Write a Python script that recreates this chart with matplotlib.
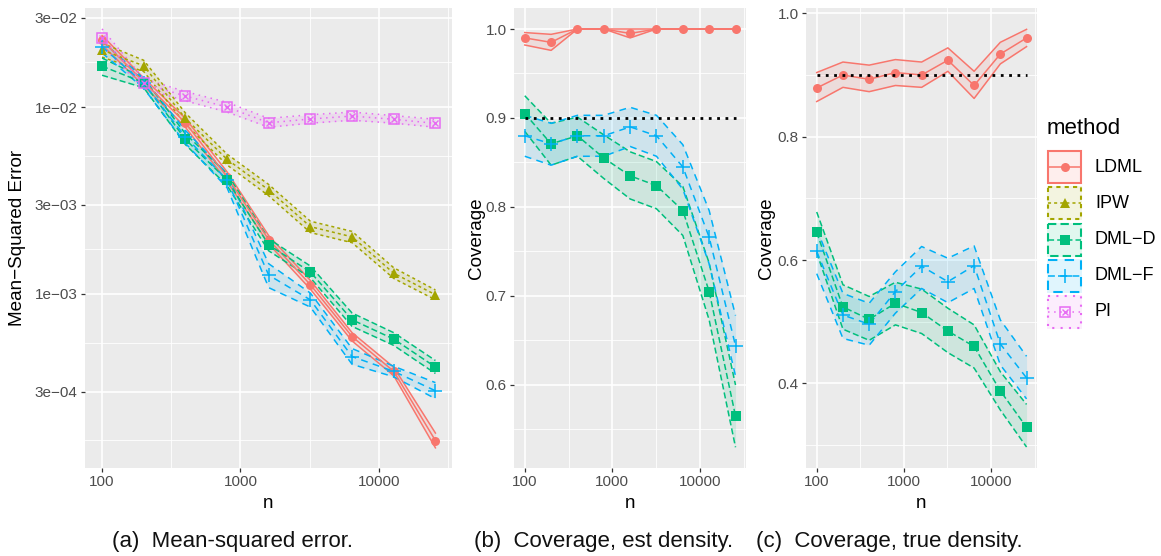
import numpy as np
import matplotlib
matplotlib.use("Agg")
import matplotlib.pyplot as plt
from matplotlib.patches import Rectangle

plt.rcParams['font.family'] = ['Liberation Sans', 'DejaVu Sans']

# ---------------- data ----------------
n_vals = [100, 200, 400, 800, 1600, 3200, 6400, 12800, 25600]
methods = ["LDML", "IPW", "DML\u2212D", "DML\u2212F", "PI"]

# (a) Mean-squared error
mse_ldml = [0.0228, 0.01365, 0.00824, 0.00424, 0.00195, 0.00112, 0.000591, 0.000385, 0.000164]
mse_ldml_lo = [0.0215, 0.0130, 0.0078, 0.0040, 0.00185, 0.00106, 0.00056, 0.000365, 0.000150]
mse_ldml_hi = [0.0242, 0.0143, 0.0087, 0.0045, 0.00205, 0.00118, 0.00062, 0.000405, 0.000180]

mse_ipw = [0.0202, 0.01663, 0.0087, 0.00525, 0.0036, 0.00229, 0.00202, 0.00129, 0.00099]
mse_ipw_lo = [0.0185, 0.0155, 0.0081, 0.0049, 0.00335, 0.00213, 0.00188, 0.00121, 0.00093]
mse_ipw_hi = [0.0220, 0.0178, 0.0093, 0.0056, 0.00385, 0.00245, 0.00216, 0.00138, 0.00105]

mse_dmld = [0.01656, 0.0135, 0.00672, 0.00407, 0.00183, 0.00131, 0.000727, 0.000573, 0.000406]
mse_dmld_lo = [0.0148, 0.0127, 0.0063, 0.0038, 0.0017, 0.00122, 0.00067, 0.00053, 0.000375]
mse_dmld_hi = [0.0183, 0.0143, 0.0072, 0.0044, 0.00197, 0.00141, 0.00079, 0.00062, 0.00044]

mse_dmlf = [0.0210, 0.0134, 0.00694, 0.00407, 0.00126, 0.000929, 0.000462, 0.000385, 0.000303]
mse_dmlf_lo = [0.0195, 0.0126, 0.0064, 0.0037, 0.00108, 0.00085, 0.00042, 0.00036, 0.000275]
mse_dmlf_hi = [0.0226, 0.0142, 0.0075, 0.0044, 0.00145, 0.00101, 0.00051, 0.00041, 0.000335]

mse_pi = [0.0235, 0.0134, 0.01145, 0.0100, 0.00824, 0.00863, 0.00895, 0.0086, 0.00818]
mse_pi_lo = [0.0212, 0.0126, 0.0108, 0.0094, 0.0078, 0.0082, 0.0085, 0.0082, 0.0078]
mse_pi_hi = [0.0262, 0.0142, 0.0121, 0.0106, 0.0087, 0.0091, 0.0094, 0.0090, 0.0086]

# (b) Coverage, estimated density
covb_ldml = [0.990, 0.985, 1.0, 1.0, 0.995, 1.0, 1.0, 1.0, 1.0]
covb_ldml_lo = [0.982, 0.976, 1.0, 1.0, 0.990, 1.0, 1.0, 1.0, 1.0]
covb_ldml_hi = [0.996, 0.994, 1.0, 1.0, 1.0, 1.0, 1.0, 1.0, 1.0]

covb_dmld = [0.905, 0.871, 0.880, 0.855, 0.835, 0.824, 0.796, 0.705, 0.565]
covb_dmld_lo = [0.885, 0.847, 0.857, 0.832, 0.809, 0.798, 0.768, 0.673, 0.530]
covb_dmld_hi = [0.925, 0.894, 0.901, 0.881, 0.862, 0.851, 0.823, 0.737, 0.600]

covb_dmlf = [0.880, 0.871, 0.880, 0.880, 0.890, 0.880, 0.845, 0.766, 0.644]
covb_dmlf_lo = [0.857, 0.847, 0.857, 0.857, 0.868, 0.857, 0.820, 0.736, 0.610]
covb_dmlf_hi = [0.903, 0.894, 0.903, 0.903, 0.912, 0.903, 0.870, 0.796, 0.678]

# (c) Coverage, true density
covc_ldml = [0.879, 0.900, 0.893, 0.904, 0.900, 0.924, 0.883, 0.934, 0.960]
covc_ldml_lo = [0.857, 0.880, 0.873, 0.883, 0.880, 0.906, 0.862, 0.918, 0.946]
covc_ldml_hi = [0.904, 0.921, 0.916, 0.925, 0.921, 0.944, 0.906, 0.953, 0.974]

covc_dmld = [0.645, 0.524, 0.504, 0.530, 0.515, 0.485, 0.460, 0.388, 0.329]
covc_dmld_lo = [0.612, 0.488, 0.470, 0.495, 0.481, 0.450, 0.425, 0.357, 0.297]
covc_dmld_hi = [0.678, 0.560, 0.541, 0.564, 0.553, 0.522, 0.495, 0.419, 0.366]

covc_dmlf = [0.614, 0.511, 0.496, 0.549, 0.590, 0.565, 0.591, 0.464, 0.409]
covc_dmlf_lo = [0.578, 0.473, 0.462, 0.514, 0.554, 0.531, 0.554, 0.430, 0.375]
covc_dmlf_hi = [0.650, 0.546, 0.530, 0.581, 0.622, 0.603, 0.623, 0.503, 0.444]

nominal = 0.9

captions = ["(a)  Mean-squared error.", "(b)  Coverage, est density.",
            "(c)  Coverage, true density."]

# ---------------- style ----------------
colors = {"LDML": "#F8766D", "IPW": "#A3A500", "DML\u2212D": "#00BF7D",
          "DML\u2212F": "#00B0F6", "PI": "#E76BF3"}
lstyles = {"LDML": "-", "IPW": (0, (2, 2)), "DML\u2212D": (0, (4, 2)),
           "DML\u2212F": (0, (4.5, 3.5)), "PI": (0, (1, 3))}
LW = 1.1
RIB_ALPHA = 0.12
BG = "#EBEBEB"
TICKCOL = "#4D4D4D"

W, H = 1161, 556
fig = plt.figure(figsize=(W / 100, H / 100), dpi=100)


def px_axes(l, r, t, b):
    return fig.add_axes([l / W, 1 - b / H, (r - l) / W, (b - t) / H])


ax_a = px_axes(85, 452, 8, 468)
ax_b = px_axes(514, 746, 8, 468)
ax_c = px_axes(806, 1037, 8, 468)

xlog_lo, xlog_hi = 1.877, 4.528


def draw_marker(ax, x, y, m):
    c = colors[m]
    if m == "PI":
        ax.plot(x, y, ls="none", marker="s", ms=6.5, mfc="none", mec=c, mew=1.1, zorder=5)
        ax.plot(x, y, ls="none", marker="x", ms=4.8, mec=c, mew=1.0, zorder=5)
    elif m == "DML\u2212F":
        ax.plot(x, y, ls="none", marker="+", ms=10, mec=c, mew=1.1, zorder=5)
    elif m == "IPW":
        ax.plot(x, y, ls="none", marker="^", ms=6.8, mfc=c, mec=c, mew=0, zorder=5)
    elif m == "DML\u2212D":
        ax.plot(x, y, ls="none", marker="s", ms=6.5, mfc=c, mec=c, mew=0, zorder=5)
    else:
        ax.plot(x, y, ls="none", marker="o", ms=6.5, mfc=c, mec=c, mew=0, zorder=5)


def draw_series(ax, m, mean, lo, hi):
    c = colors[m]
    ls = lstyles[m]
    ax.fill_between(n_vals, lo, hi, color=c, alpha=RIB_ALPHA, lw=0, zorder=2)
    ax.plot(n_vals, lo, color=c, ls=ls, lw=LW, zorder=3)
    ax.plot(n_vals, hi, color=c, ls=ls, lw=LW, zorder=3)
    ax.plot(n_vals, mean, color=c, ls=ls, lw=LW, zorder=4)
    draw_marker(ax, n_vals, mean, m)


def style_axes(ax, ymajor, yminor, ylabels):
    ax.set_facecolor(BG)
    for s in ax.spines.values():
        s.set_visible(False)
    ax.set_xscale("log")
    ax.set_xlim(10 ** xlog_lo, 10 ** xlog_hi)
    xmaj = [100, 1000, 10000]
    xmin = [10 ** 2.5, 10 ** 3.5, 10 ** 4.5]
    ax.set_xticks(xmaj)
    ax.set_xticklabels(["100", "1000", "10000"])
    ax.set_xticks(xmin, minor=True)
    ax.set_xticklabels([], minor=True)
    ax.set_yticks(ymajor)
    ax.set_yticklabels(ylabels)
    ax.set_yticks(yminor, minor=True)
    ax.set_yticklabels([], minor=True)
    ax.grid(True, which="major", color="white", lw=1.2, zorder=0)
    ax.grid(True, which="minor", color="white", lw=0.6, zorder=0)
    ax.set_axisbelow(True)
    ax.tick_params(which="major", length=3.0, width=0.9, color="#333333",
                   labelsize=11, labelcolor=TICKCOL, pad=2.2)
    ax.tick_params(which="minor", length=0)


# Panel (a)
ax_a.set_yscale("log")
ya_major = [3e-4, 1e-3, 3e-3, 1e-2, 3e-2]
lg = np.log10(ya_major)
bd = lg[1] - lg[0]
lgx = np.concatenate([[lg[0] - bd], lg, [lg[-1] + bd]])
ya_minor = list(10 ** ((lgx[:-1] + lgx[1:]) / 2))
style_axes(ax_a, ya_major, ya_minor,
           ["3e\u221204", "1e\u221203", "3e\u221203", "1e\u221202", "3e\u221202"])
ax_a.set_ylim(1.17e-4, 3.39e-2)
draw_series(ax_a, "LDML", mse_ldml, mse_ldml_lo, mse_ldml_hi)
draw_series(ax_a, "IPW", mse_ipw, mse_ipw_lo, mse_ipw_hi)
draw_series(ax_a, "DML\u2212D", mse_dmld, mse_dmld_lo, mse_dmld_hi)
draw_series(ax_a, "DML\u2212F", mse_dmlf, mse_dmlf_lo, mse_dmlf_hi)
draw_series(ax_a, "PI", mse_pi, mse_pi_lo, mse_pi_hi)

# Panel (b)
style_axes(ax_b, [0.6, 0.7, 0.8, 0.9, 1.0], [0.55, 0.65, 0.75, 0.85, 0.95],
           ["0.6", "0.7", "0.8", "0.9", "1.0"])
ax_b.set_ylim(0.5067, 1.0236)
draw_series(ax_b, "LDML", covb_ldml, covb_ldml_lo, covb_ldml_hi)
draw_series(ax_b, "DML\u2212D", covb_dmld, covb_dmld_lo, covb_dmld_hi)
draw_series(ax_b, "DML\u2212F", covb_dmlf, covb_dmlf_lo, covb_dmlf_hi)
ax_b.plot([n_vals[0], n_vals[-1]], [nominal, nominal], color="black",
          ls=(0, (1, 2)), lw=2.0, zorder=6)

# Panel (c)
style_axes(ax_c, [0.4, 0.6, 0.8, 1.0], [0.3, 0.5, 0.7, 0.9],
           ["0.4", "0.6", "0.8", "1.0"])
ax_c.set_ylim(0.263, 1.0086)
draw_series(ax_c, "LDML", covc_ldml, covc_ldml_lo, covc_ldml_hi)
draw_series(ax_c, "DML\u2212D", covc_dmld, covc_dmld_lo, covc_dmld_hi)
draw_series(ax_c, "DML\u2212F", covc_dmlf, covc_dmlf_lo, covc_dmlf_hi)
ax_c.plot([n_vals[0], n_vals[-1]], [nominal, nominal], color="black",
          ls=(0, (1, 2)), lw=2.0, zorder=6)

# ---------------- overlay for titles, legend, captions ----------------
ov = fig.add_axes([0, 0, 1, 1], zorder=10)
ov.set_xlim(0, W)
ov.set_ylim(H, 0)
ov.axis("off")
ov.patch.set_alpha(0)

ov.text(18, 238, "Mean\u2212Squared Error", rotation=90, ha="center", va="center",
        fontsize=13.6, color="black")
ov.text(476, 238, "Coverage", rotation=90, ha="center", va="center",
        fontsize=13.6, color="black")
ov.text(767, 238, "Coverage", rotation=90, ha="center", va="center",
        fontsize=13.6, color="black")
for xc in (268, 630, 921):
    ov.text(xc, 503, "n", ha="center", va="center", fontsize=13.6, color="black")

# legend
ov.text(1047, 128, "method", ha="left", va="center", fontsize=16, color="black")
key_x0, key_w, key_h = 1047, 35, 34
key_centers = [167, 203, 239.5, 275.5, 312]
for m, yc in zip(methods, key_centers):
    c = colors[m]
    ov.add_patch(Rectangle((key_x0, yc - key_h / 2), key_w, key_h, facecolor=c,
                           alpha=RIB_ALPHA, lw=0))
    ov.add_patch(Rectangle((key_x0 + 1, yc - key_h / 2 + 1), key_w - 2, key_h - 2,
                           facecolor="none", edgecolor=c, lw=LW + 0.4,
                           ls=lstyles[m]))
    ov.plot([key_x0 + 1, key_x0 + key_w - 1], [yc, yc], color=c, ls=lstyles[m], lw=LW)
    draw_marker(ov, [key_x0 + key_w / 2], [yc], m)
    ov.text(1095, yc, m, ha="left", va="center", fontsize=13, color="black")

# captions
for xc, cap in zip((232, 604, 889), captions):
    ov.text(xc, 541, cap, ha="center", va="center", fontsize=16, color="#111111")

fig.savefig("out.png", dpi=100)
